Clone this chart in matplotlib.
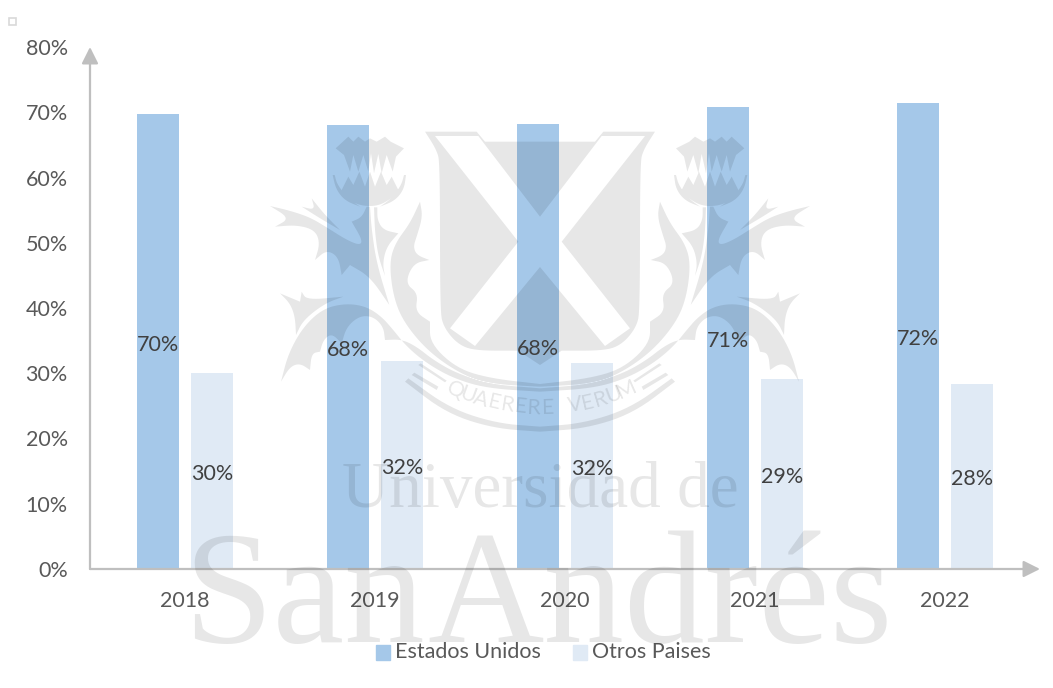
import numpy as np
import matplotlib
matplotlib.use('Agg')
import matplotlib.pyplot as plt
from matplotlib.patches import PathPatch, Rectangle
from matplotlib.path import Path
from matplotlib.transforms import Affine2D

years = ['2018', '2019', '2020', '2021', '2022']
estados_unidos = [69.7, 68.0, 68.2, 70.8, 71.4]
otros_paises = [30.0, 31.9, 31.6, 29.1, 28.4]
labels_eu = ['70%', '68%', '68%', '71%', '72%']
labels_otros = ['30%', '32%', '32%', '29%', '28%']

BLUE = '#A5C8E9'
LIGHT = '#E0EAF5'
AXIS = '#BFBFBF'
TEXT = '#595959'
FS = 15.5

plt.rcParams['font.family'] = ['Lato', 'DejaVu Sans']

W, H = 1053, 688
fig = plt.figure(figsize=(W / 100, H / 100), dpi=100)
ax = fig.add_axes([90 / W, (H - 569) / H, 950 / W, 522 / H])
px = Affine2D().scale(1, -1).translate(0, H)

# bars
x = np.arange(len(years))
ax.bar(x - 0.142, estados_unidos, 0.226, color=BLUE, zorder=2)
ax.bar(x + 0.142, otros_paises, 0.226, color=LIGHT, zorder=2)

for i in range(len(years)):
    ax.text(x[i] - 0.142, estados_unidos[i] / 2 - 0.15, labels_eu[i], ha='center',
            va='center_baseline', fontsize=FS, color='#404040', zorder=5)
    ax.text(x[i] + 0.142, otros_paises[i] / 2 - 0.15, labels_otros[i], ha='center',
            va='center_baseline', fontsize=FS, color='#404040', zorder=5)

ax.set_xlim(-0.5, 4.5)
ax.set_ylim(0, 80)
ax.set_xticks(x)
ax.set_xticklabels(years)
ax.set_yticks(range(0, 81, 10))
ax.set_yticklabels([f'{v}%' for v in range(0, 81, 10)])
ax.tick_params(length=0, labelsize=FS, labelcolor=TEXT)
ax.tick_params(axis='x', pad=16)
ax.tick_params(axis='y', pad=16)
for s in ax.spines.values():
    s.set_visible(False)

# axis arrows
arrow = dict(arrowstyle='-|>,head_width=0.5,head_length=1.0', color=AXIS, lw=1.6,
             shrinkA=0, shrinkB=0)
ax.annotate('', xy=(0, 1), xytext=(0, 0), xycoords='axes fraction', arrowprops=arrow, zorder=3)
ax.annotate('', xy=(1, 0), xytext=(0, 0), xycoords='axes fraction', arrowprops=arrow, zorder=3)

# legend
ax.add_patch(Rectangle((376, 645), 14, 15, transform=px, color=BLUE, clip_on=False))
ax.add_patch(Rectangle((573, 645), 14, 15, transform=px, color=LIGHT, clip_on=False))
ax.text(395, 652, 'Estados Unidos', transform=px, fontsize=FS, color=TEXT, va='center')
ax.text(592, 652, 'Otros Paises', transform=px, fontsize=FS, color=TEXT, va='center')

# little selection handle, top left
ax.add_patch(Rectangle((9, 18), 7, 7, transform=px, fc='white', ec='#D9D9D9', lw=1.2, clip_on=False))

# watermark crest, left half, in crop coords: (x, y) is rounded, (x, y, 1) is a sharp corner
shield_top = [(465, 5, 1), (620, 5, 1), (645, 35, 1), (810, 35, 1), (810, 260, 1), (625, 18, 1),
              (495, 18, 1)]
shield_left = [(465, 5, 1), (495, 18, 1), (745, 335, 1), (540, 595, 1), (615, 648, 1), (810, 411, 1),
               (810, 705, 1), (745, 662, 1), (610, 662), (560, 640), (520, 590), (510, 540),
               (510, 100), (500, 60)]
crown = [(197, 55, 1), (235, 20, 1), (250, 35, 1), (265, 20, 1), (285, 35, 1), (300, 25, 1),
         (320, 35, 1), (345, 20, 1), (362, 35, 1), (402, 55, 1), (378, 80, 1), (368, 125, 1),
         (350, 75, 1), (335, 130, 1), (325, 72, 1), (312, 130, 1), (303, 70, 1), (295, 125, 1),
         (280, 75, 1), (265, 125, 1), (250, 75, 1), (240, 125, 1), (222, 75, 1)]
cup = [(215, 180, 1), (235, 140, 1), (250, 165, 1), (268, 125, 1), (285, 170, 1), (300, 125, 1),
       (315, 170, 1), (333, 125, 1), (350, 165, 1), (365, 140, 1), (385, 180, 1), (365, 205),
       (325, 228), (275, 228), (235, 210)]
rim_left = [(188, 135, 1), (194, 135, 1), (202, 165), (235, 205), (270, 230, 1), (225, 212), (198, 178)]
rim_right = [(408, 135, 1), (402, 135, 1), (394, 165), (365, 205), (330, 230, 1), (375, 212), (402, 178)]
leaf_upper = [(0, 228, 1), (60, 242), (120, 262), (170, 292), (230, 330), (270, 346), (277, 330),
              (245, 275, 1), (275, 262), (290, 230, 1), (300, 230, 1), (305, 300), (320, 400),
              (358, 525, 1), (300, 440), (240, 405, 1), (215, 435, 1), (205, 380), (170, 360),
              (135, 390, 1), (150, 340), (135, 300), (80, 285), (15, 290, 1), (60, 265)]
spike = [(95, 230, 1), (135, 240), (125, 205, 1), (165, 255), (210, 300, 1), (150, 265)]
leaf_lower = [(30, 490, 1), (90, 515, 1), (95, 485, 1), (110, 510), (220, 500, 1), (165, 520),
              (100, 570), (78, 615, 1), (75, 560), (60, 520)]
band_low = [(33, 755, 1), (55, 670), (100, 590), (160, 535), (230, 520), (290, 530), (335, 560),
            (370, 600), (410, 650), (470, 700), (550, 745), (650, 775), (810, 785, 1), (810, 770, 1),
            (660, 762), (560, 730), (490, 690), (440, 650), (395, 628), (345, 630, 1), (340, 590),
            (310, 560), (270, 557), (230, 590), (215, 640, 1), (185, 610), (160, 630), (150, 665, 1),
            (125, 670), (120, 720, 1), (90, 700), (60, 710)]
band_stem = [(450, 215, 1), (420, 280), (375, 340), (358, 400), (370, 500), (400, 575), (470, 660),
             (560, 725), (650, 762), (810, 775, 1), (810, 762, 1), (660, 745), (560, 715), (480, 640),
             (480, 575, 1), (435, 545), (445, 490), (405, 460), (430, 400), (478, 390, 1), (440, 375),
             (430, 350), (440, 320), (458, 260)]
vein = [(322, 232, 1), (322, 270), (340, 300), (385, 310, 1), (350, 350), (338, 400), (345, 438, 1),
        (325, 380), (315, 310), (312, 232, 1)]
ribbon = [(405, 755, 1), (415, 745, 1), (540, 835), (680, 880), (810, 890, 1), (810, 905, 1),
          (670, 895), (530, 850)]
strip_a = [(425, 735, 1), (433, 728, 1), (505, 770, 1), (500, 780, 1)]
strip_b = [(445, 705, 1), (452, 700, 1), (530, 752, 1), (525, 757, 1)]
crest = [shield_top, shield_left, crown, cup, rim_left, rim_right, leaf_upper, spike, leaf_lower,
         band_low, band_stem, vein, ribbon, strip_a, strip_b]


def outline(poly):
    # rounded vertices become small quadratic curves
    line = []
    n = len(poly)
    for i in range(n):
        p = np.array(poly[i][:2], float)
        if len(poly[i]) == 3:
            line.append(p)
            continue
        a = (np.array(poly[i - 1][:2], float) + p) / 2
        b = (np.array(poly[(i + 1) % n][:2], float) + p) / 2
        for t in np.linspace(0, 1, 8):
            line.append((1 - t) ** 2 * a + 2 * t * (1 - t) * p + t ** 2 * b)
    return np.array(line)


verts, codes = [], []
for poly in crest:
    base = outline(poly)
    for mirror in (False, True):
        pts = np.column_stack([270 + base[:, 0] / 3, 130 + base[:, 1] / 3])
        if mirror:
            pts[:, 0] = 1080 - pts[:, 0]
        # same winding for all, so overlaps do not get darker
        area = np.sum(pts[:, 0] * np.roll(pts[:, 1], -1) - np.roll(pts[:, 0], -1) * pts[:, 1])
        if area < 0:
            pts = pts[::-1]
        verts.extend(pts.tolist() + [pts[0].tolist()])
        codes.extend([Path.MOVETO] + [Path.LINETO] * (len(pts) - 1) + [Path.CLOSEPOLY])
ax.add_patch(PathPatch(Path(verts, codes), fc='black', ec='none', alpha=0.095, zorder=3,
                       clip_on=False, transform=px))

# motto along the arc
motto = 'QUAERERE VERUM'
cx, cy, radius = 541, 198, 210
angles = np.linspace(24, -24, len(motto))
for ch, a in zip(motto, angles):
    t = np.radians(a)
    ax.text(cx - radius * np.sin(t), cy + radius * np.cos(t), ch, transform=px, rotation=-a,
            rotation_mode='anchor', ha='center', va='center', fontsize=15.5, color='black',
            alpha=0.095, zorder=3)

ax.text(540.5, 507, 'Universidad de', transform=px, family='Liberation Serif', fontsize=47,
        ha='center', va='baseline', color='black', alpha=0.095, zorder=3)
ax.text(183, 642, 'San', transform=px, family='Liberation Serif', fontsize=116,
        ha='left', va='baseline', color='black', alpha=0.095, zorder=3)
ax.text(893, 642, 'Andrés', transform=px, family='Liberation Serif', fontsize=116,
        ha='right', va='baseline', color='black', alpha=0.095, zorder=3)

fig.savefig('out.png', dpi=100)
